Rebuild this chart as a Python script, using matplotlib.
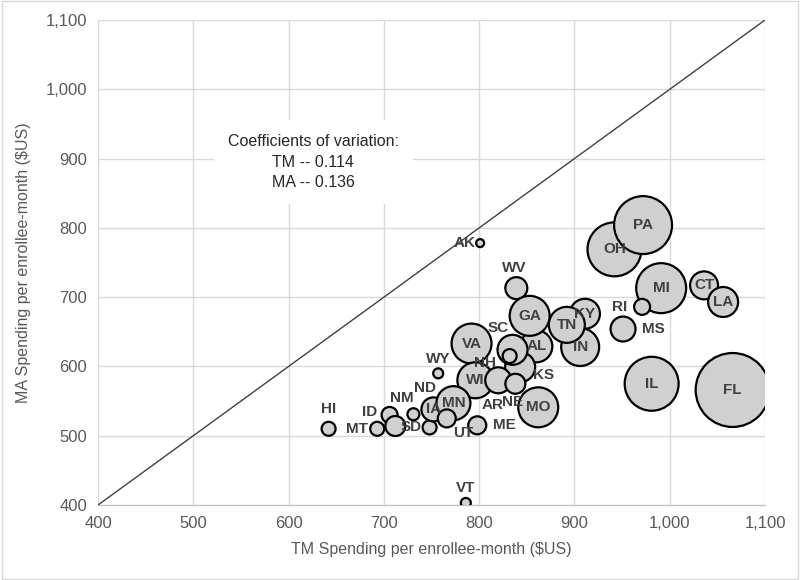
import matplotlib
matplotlib.use("Agg")
import matplotlib.pyplot as plt
from matplotlib.ticker import FuncFormatter

# datos: gasto TM (x), gasto MA (y), tamano de burbuja
# (el orden de la lista es el orden de dibujo, como en el original)
estados = ["AK", "WV", "OH", "PA", "MI", "RI", "CT", "LA", "MS", "KY",
           "IN", "TN", "AL", "GA", "KS", "SC", "NH", "VA", "WY", "WI",
           "AR", "NE", "MO", "IL", "FL", "HI", "MT", "ID", "NM", "ND",
           "SD", "IA", "MN", "UT", "ME", "VT"]
gasto_tm = [801, 839, 942, 972, 991, 971, 1036, 1056, 951, 911,
            906, 892, 860, 853, 843, 835, 832, 792, 757, 796,
            820, 838, 862, 981, 1066, 642, 693, 706, 712, 731,
            748, 752, 773, 766, 798, 786]
gasto_ma = [778, 713, 769, 804, 713, 686, 717, 693, 654, 676,
            628, 660, 629, 673, 599, 624, 615, 633, 590, 580,
            580, 575, 541, 575, 566, 510, 510, 530, 514, 531,
            512, 538, 547, 525, 515, 403]
tamano = [16, 121, 729, 841, 625, 64, 196, 225, 156, 225,
          361, 324, 256, 400, 225, 225, 49, 400, 25, 324,
          169, 100, 400, 729, 1369, 49, 49, 64, 100, 36,
          49, 144, 289, 81, 81, 25]

# desplazamiento de etiquetas (pixeles) para las burbujas chicas
desplaz = {"AK": (-15, 0), "WV": (-2, 20), "SC": (-14, 22), "RI": (-22, 0),
           "MS": (30, 0), "WY": (0, 14), "NH": (-25, -7), "KS": (23, -8),
           "AR": (-6, -25), "NE": (-3, -18), "ND": (12, 26), "NM": (7, 28),
           "ID": (-20, 3), "MT": (-20, 0), "HI": (0, 20), "SD": (-18, 0),
           "UT": (16, -15), "ME": (27, 0), "VT": (0, 15)}

fuente = ["Liberation Sans Narrow", "Liberation Sans", "DejaVu Sans"]
gris_txt = "#595959"

fig = plt.figure(figsize=(8, 5.8), dpi=100)
fig.patches.append(plt.Rectangle((0.002, 0.002), 0.996, 0.996, transform=fig.transFigure,
                                 fill=False, edgecolor="#d9d9d9", linewidth=1))
ax = fig.add_axes([0.1225, 0.1293, 0.8338, 0.8362])

ax.set_xlim(400, 1100)
ax.set_ylim(400, 1100)
ax.set_xticks(range(400, 1101, 100))
ax.set_yticks(range(400, 1101, 100))
fmt = FuncFormatter(lambda v, p: f"{int(v):,}")
ax.xaxis.set_major_formatter(fmt)
ax.yaxis.set_major_formatter(fmt)
ax.grid(True, color="#d9d9d9", linewidth=1)
ax.set_axisbelow(True)
for lado in ["top", "right", "left"]:
    ax.spines[lado].set_visible(False)
ax.spines["bottom"].set_color("#bfbfbf")
ax.tick_params(length=0, labelsize=12, colors=gris_txt, pad=8)
for t in ax.get_xticklabels() + ax.get_yticklabels():
    t.set_family(fuente)

# linea de 45 grados
ax.plot([400, 1100], [400, 1100], color="#404040", linewidth=1, zorder=2)

escala = 2.07
ax.scatter(gasto_tm, gasto_ma, s=[t * escala for t in tamano], facecolor="#d0d0d0",
           edgecolor="black", linewidth=1.6, zorder=3, clip_on=True)

for i, est in enumerate(estados):
    dx, dy = desplaz.get(est, (0, 0))
    ax.annotate(est, (gasto_tm[i], gasto_ma[i]), xytext=(dx, dy), textcoords="offset pixels",
                ha="center", va="center", fontsize=11, fontweight="bold",
                color="#404040", family=["Liberation Sans", "DejaVu Sans"], zorder=4)

ax.text(626, 895, "Coefficients of variation:\nTM -- 0.114\nMA -- 0.136", ha="center", va="center",
        fontsize=11.5, color="#262626", linespacing=1.45, family=fuente, zorder=5,
        bbox=dict(facecolor="white", edgecolor="none", pad=10))

ax.set_xlabel("TM Spending per enrollee-month ($US)", fontsize=11.5, color=gris_txt,
              family=fuente, labelpad=8)
ax.set_ylabel("MA Spending per enrollee-month ($US)", fontsize=11.5, color=gris_txt,
              family=fuente, labelpad=10)

fig.savefig("out.png", dpi=100)
